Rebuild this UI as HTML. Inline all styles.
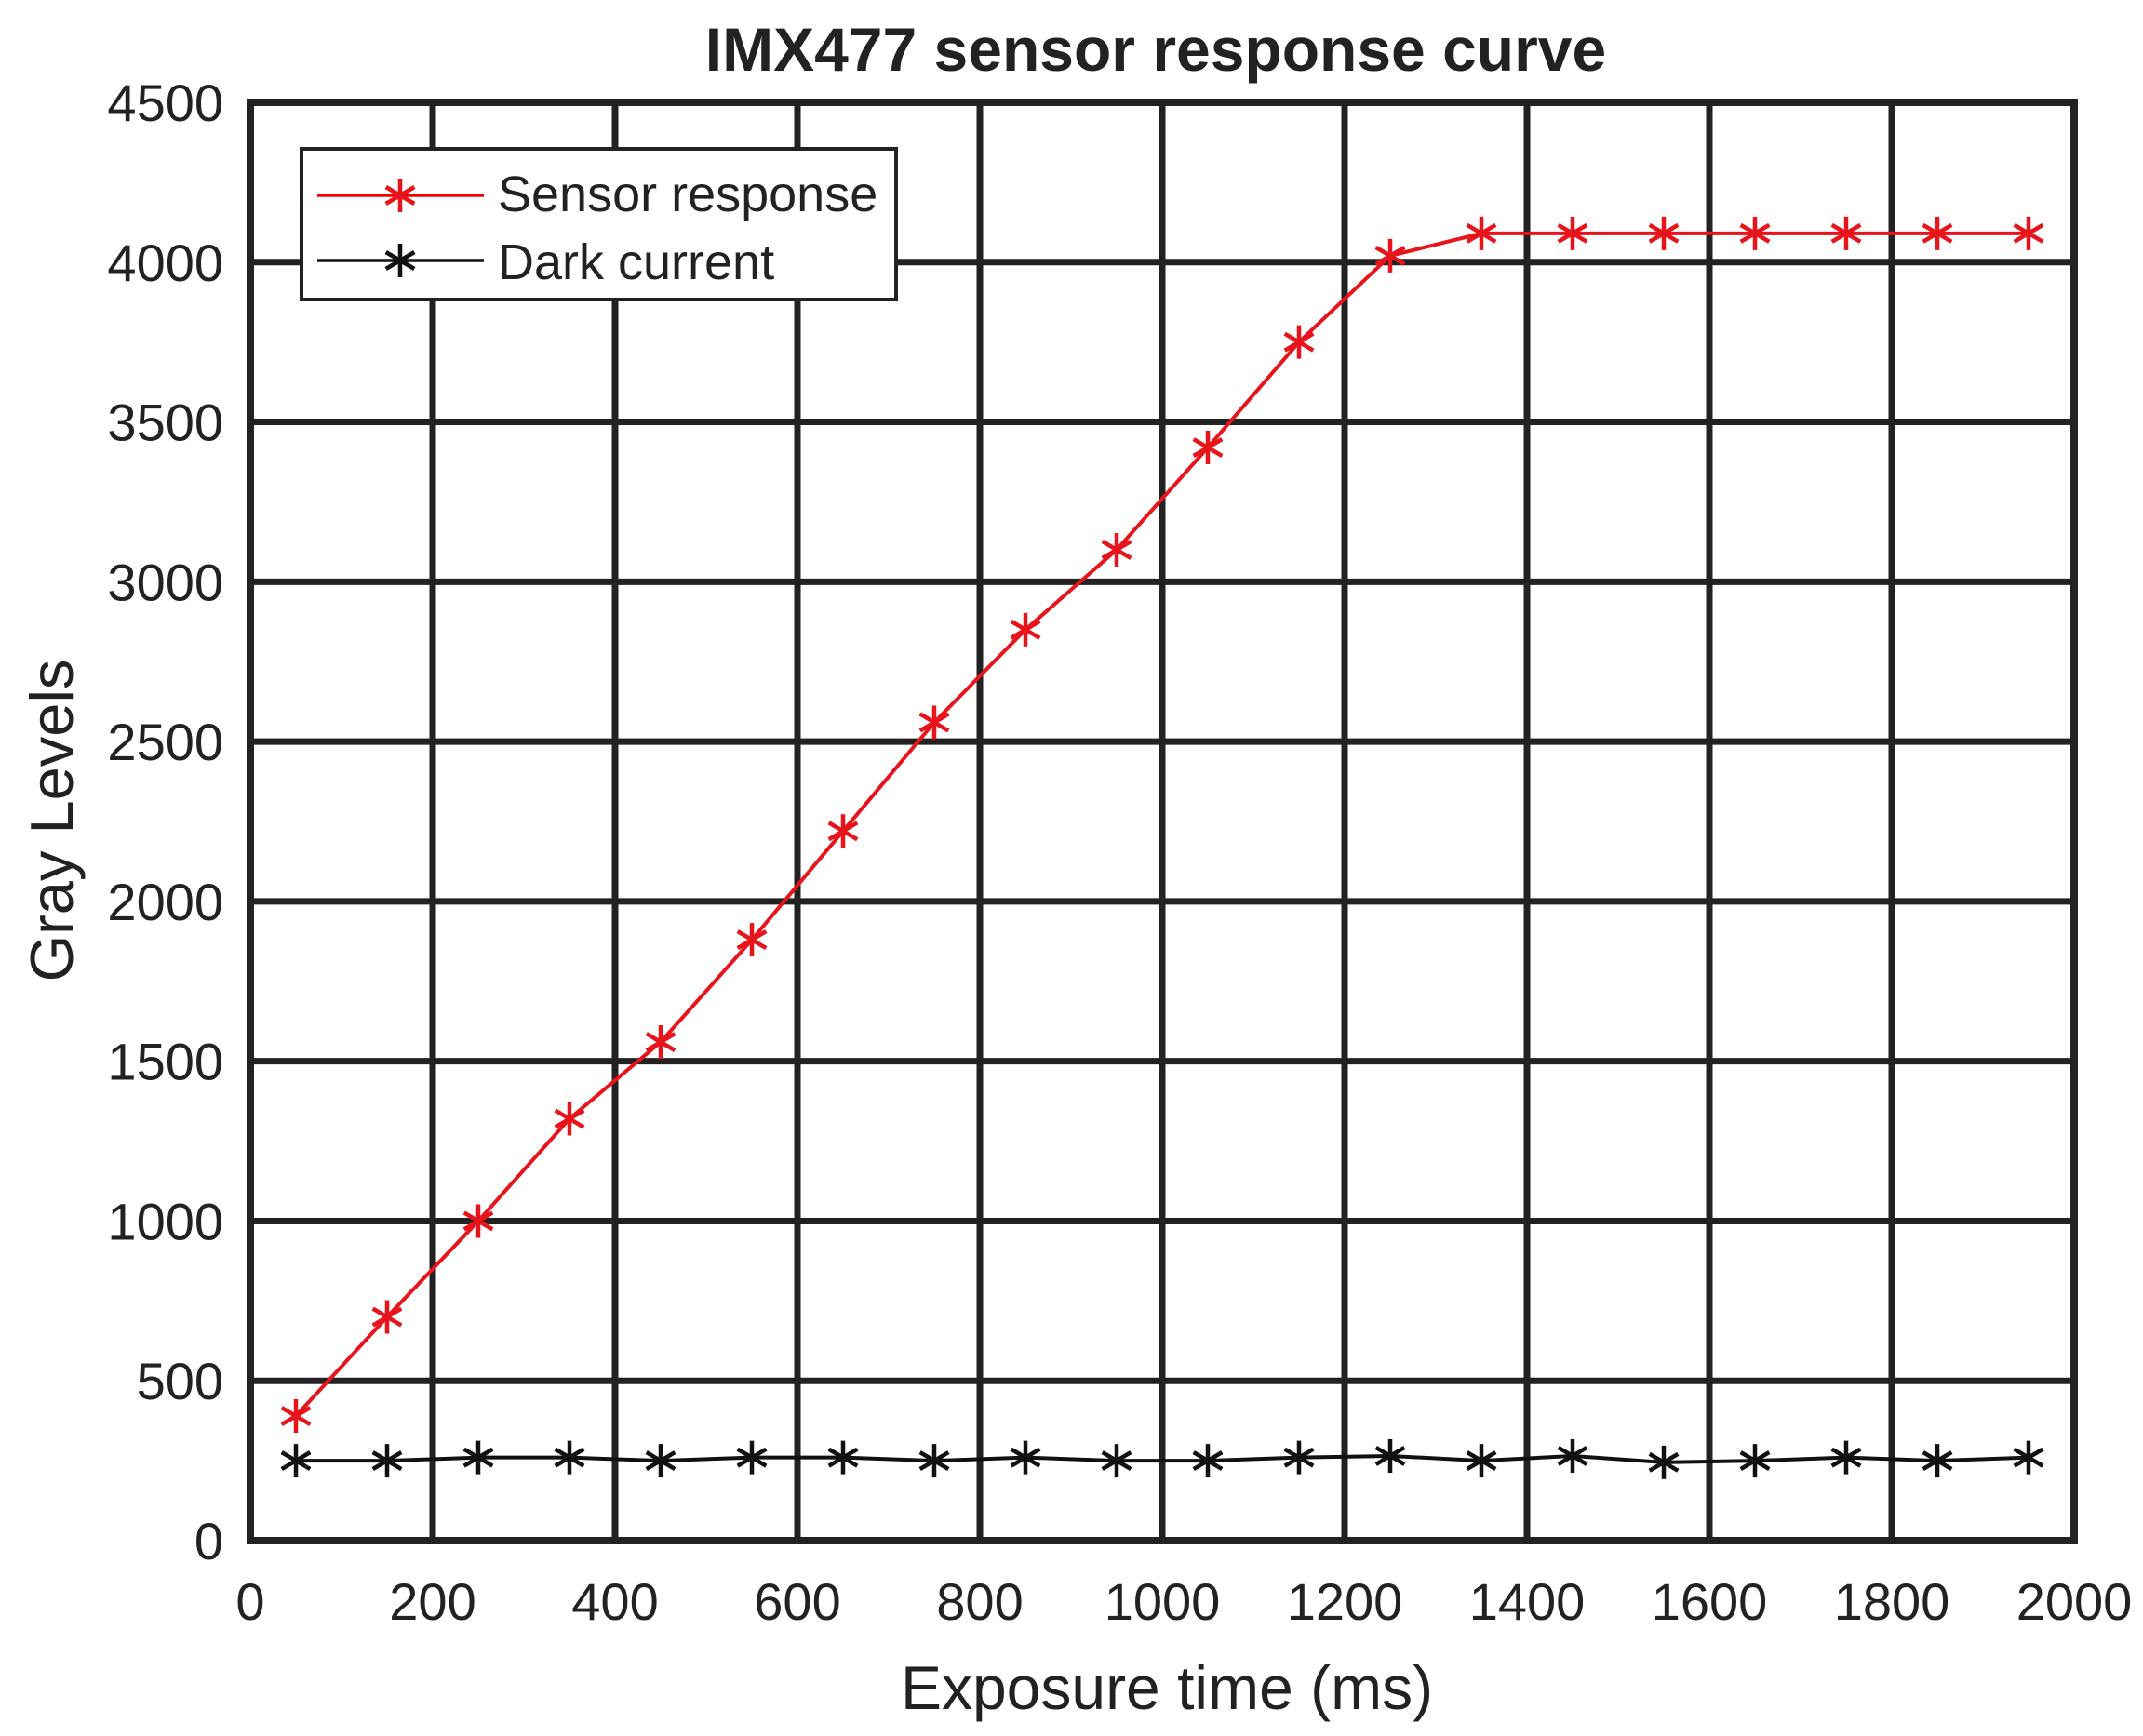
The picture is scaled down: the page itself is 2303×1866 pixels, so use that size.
<!DOCTYPE html>
<html><head><meta charset="utf-8"><style>
html,body{margin:0;padding:0;background:#fff;}
svg{display:block;}
text{font-family:"Liberation Sans",sans-serif;fill:#222;}
</style></head><body>
<svg id="s" width="2303" height="1866" viewBox="0 0 2303 1866" xmlns="http://www.w3.org/2000/svg">
<text x="1242" y="76" font-size="66" font-weight="bold" text-anchor="middle" fill="#111">IMX477 sensor response curve</text>
<g id="grid" stroke="#222" stroke-width="7" fill="none"></g>
<g id="ticks"></g>
<g id="series"></g>
<text x="1254" y="1837" font-size="66" text-anchor="middle">Exposure time (ms)</text>
<text transform="translate(78,882) rotate(-90)" font-size="65" text-anchor="middle">Gray Levels</text>
<rect x="324" y="160" width="639" height="162" fill="#fff" stroke="#222" stroke-width="4"/>
<line x1="341" y1="210" x2="520" y2="210" stroke="#e00" stroke-width="3.5"/>
<line x1="341" y1="280" x2="520" y2="280" stroke="#111" stroke-width="3.5"/>
<g id="leg"></g>
<text x="535" y="227" font-size="54" fill="#111">Sensor response</text>
<text x="535" y="300" font-size="54" fill="#111">Dark current</text>
</svg>
<script>
var L=269,R=2229,T=110,B=1656;
function X(v){return L+(R-L)*v/2000}
function Y(v){return B-(B-T)*v/4500}
var ns="http://www.w3.org/2000/svg";
function el(p,t,a){var e=document.createElementNS(ns,t);for(var k in a)e.setAttribute(k,a[k]);p.appendChild(e);return e;}
var g=document.getElementById('grid'),tk=document.getElementById('ticks');
for(var i=0;i<=10;i++){var x=X(i*200);el(g,'line',{x1:x,y1:T,x2:x,y2:B});
 var t=el(tk,'text',{x:x,y:1741,'font-size':56,'text-anchor':'middle'});t.textContent=i*200;}
for(var j=0;j<=9;j++){var y=Y(j*500);el(g,'line',{x1:L,y1:y,x2:R,y2:y});
 var t=el(tk,'text',{x:240,y:y+20,'font-size':56,'text-anchor':'end'});t.textContent=j*500;}
el(g,'rect',{x:L,y:T,width:R-L,height:B-T,'stroke-width':8});
var s=[390,700,1000,1320,1560,1880,2220,2560,2850,3100,3420,3750,4020,4090,4090,4090,4090,4090,4090,4090];
var d=[250,250,260,260,250,260,260,250,260,250,250,260,265,250,265,245,250,260,250,260];
var sg=document.getElementById('series');
function star(p,x,y,c){var r=18,a=r*0.85,b=r*0.5;
 el(p,'path',{d:'M'+x+' '+(y-r)+'V'+(y+r)+'M'+(x-a)+' '+(y-b)+'L'+(x+a)+' '+(y+b)+'M'+(x-a)+' '+(y+b)+'L'+(x+a)+' '+(y-b),stroke:c,'stroke-width':4.5,fill:'none'});}
function ser(arr,c){var pts=arr.map(function(v,i){return X(50+100*i)+','+Y(v)}).join(' ');
 el(sg,'polyline',{points:pts,stroke:c,'stroke-width':4,fill:'none'});
 arr.forEach(function(v,i){star(sg,X(50+100*i),Y(v),c)});}
ser(d,'#111');ser(s,'#e8141c');
var lg=document.getElementById('leg');star(lg,430,210,'#e8141c');star(lg,430,280,'#111');
</script>
</body></html>
